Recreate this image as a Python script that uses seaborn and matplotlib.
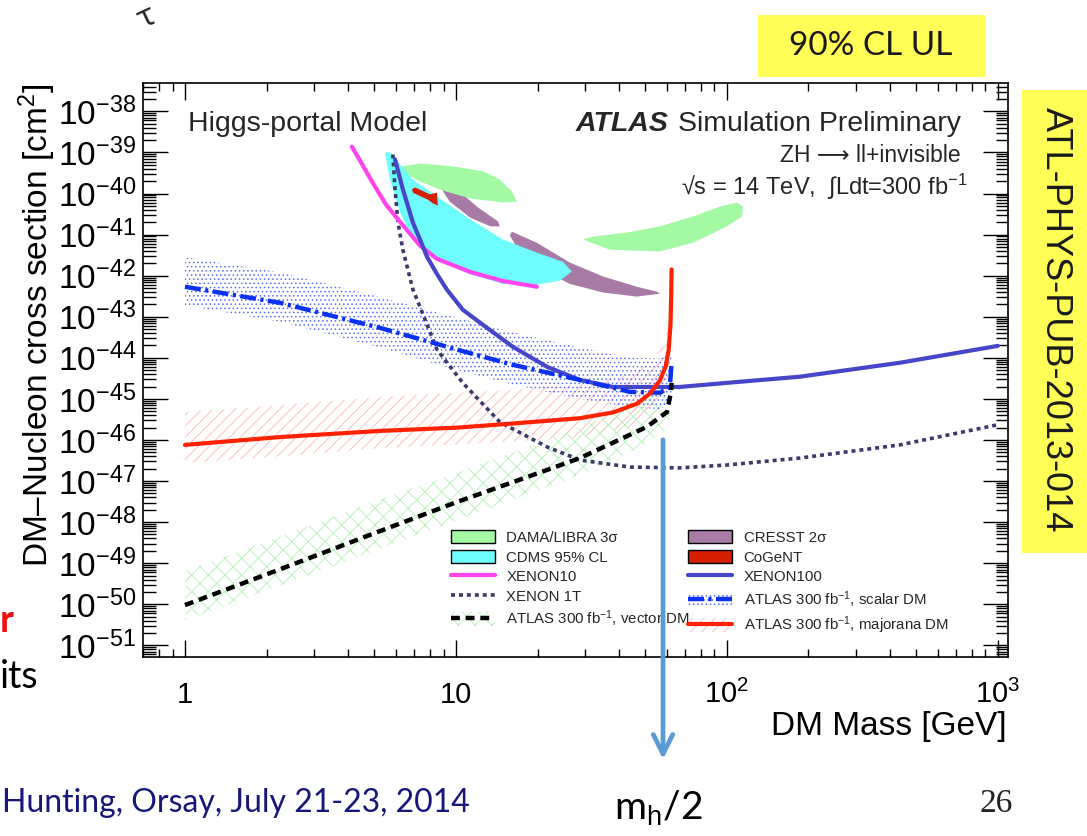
import numpy as np
import matplotlib
matplotlib.use("Agg")
import matplotlib.pyplot as plt
import seaborn as sns
from matplotlib.patches import Patch, FancyArrowPatch, Rectangle
from matplotlib.lines import Line2D

# ---------------------------------------------------------------------------
# Data: DM mass [GeV] and log10 of the DM-nucleon cross section [cm^2]
# ---------------------------------------------------------------------------
# ATLAS 300 fb-1, majorana DM
majorana_mass = [1.0, 2.24, 5.24, 10.09, 16.2, 28.7, 38.0, 46.5, 52.0, 56.6, 59.5, 61.0, 61.9, 62.3, 62.5]
majorana_log = [-46.12, -45.93, -45.78, -45.70, -45.60, -45.47, -45.33, -45.12, -44.87, -44.55,
                -44.20, -43.80, -43.20, -42.50, -41.85]
# majorana uncertainty band
majorana_band_mass = [1.0, 2.24, 5.24, 14.5, 28.7, 43.9, 53.3, 59.0, 61.6, 62.2, 62.5]
majorana_band_hi = [-45.32, -45.15, -44.95, -44.80, -44.65, -44.40, -44.10, -43.60, -43.00, -42.30, -41.60]
majorana_band_lo = [-46.56, -46.40, -46.20, -46.05, -45.95, -45.70, -45.40, -44.90, -44.20, -43.40, -42.40]

# ATLAS 300 fb-1, scalar DM (line and band share mass points)
scalar_mass = [1.0, 2.24, 5.24, 10.09, 16.2, 28.7, 43.9, 56.6, 61.6, 62.5]
scalar_log = [-42.27, -42.66, -43.27, -43.80, -44.17, -44.54, -44.83, -44.85, -44.71, -44.10]
scalar_band_hi = [-41.55, -41.92, -42.52, -43.02, -43.38, -43.75, -44.00, -44.02, -43.90, -43.85]
scalar_band_lo = [-42.72, -43.12, -43.75, -44.30, -44.65, -45.00, -45.20, -45.25, -45.15, -45.10]

# ATLAS 300 fb-1, vector DM
vector_mass = [1.0, 2.24, 5.24, 10.09, 21.7, 28.7, 50.7, 60.1, 62.1, 62.5]
vector_log = [-50.02, -49.15, -48.22, -47.51, -46.73, -46.44, -45.68, -45.32, -44.85, -44.61]
vector_band_hi = [-49.20, -48.35, -47.45, -46.80, -46.00, -45.70, -45.00, -44.75, -44.40, -44.20]
vector_band_lo = [-50.40, -49.55, -48.65, -47.95, -47.15, -46.85, -46.10, -45.75, -45.40, -45.20]

# Direct-detection limits
xenon10_mass = [4.13, 4.50, 4.90, 5.52, 6.22, 7.37, 8.51, 11.3, 14.9, 19.9]
xenon10_log = [-38.86, -39.28, -39.71, -40.27, -40.69, -41.27, -41.59, -41.91, -42.13, -42.27]

xenon100_mass = [5.96, 6.37, 6.94, 7.37, 7.82, 8.51, 9.26, 10.6, 12.3, 16.2, 21.7, 28.7, 38.0,
                 67.0, 100.0, 186.0, 435.0, 1000.0]
xenon100_log = [-39.17, -39.90, -40.71, -41.12, -41.54, -41.96, -42.34, -42.83, -43.15, -43.73,
                -44.22, -44.54, -44.71, -44.71, -44.61, -44.46, -44.12, -43.71]

xenon1t_mass = [5.85, 5.96, 6.11, 6.37, 6.94, 7.37, 8.51, 10.6, 14.5, 21.7, 28.7, 43.9, 67.0,
                100.0, 186.0, 435.0, 1000.0]
xenon1t_log = [-39.05, -39.90, -40.70, -41.37, -42.34, -42.76, -43.80, -44.61, -45.56, -46.17,
               -46.49, -46.66, -46.68, -46.61, -46.44, -46.12, -45.63]

# Signal regions (closed contours)
cdms_mass = [5.47, 5.71, 6.22, 6.94, 8.51, 11.3, 14.9, 19.9, 24.2, 26.8,
             24.8, 19.9, 14.9, 11.3, 8.51, 6.94, 6.22, 5.71]
cdms_log = [-39.00, -39.66, -40.46, -41.12, -41.63, -41.97, -42.20, -42.22, -42.12, -41.90,
            -41.66, -41.44, -41.12, -40.63, -40.07, -39.66, -39.29, -39.00]

dama1_mass = [6.32, 7.37, 9.75, 12.6, 14.5, 16.1, 16.8, 14.9, 11.3, 8.96, 7.37, 6.43]
dama1_log = [-39.34, -39.27, -39.34, -39.46, -39.66, -39.95, -40.20, -40.22, -40.12, -39.93, -39.71, -39.49]

dama2_mass = [29.4, 37.0, 56.6, 74.9, 100.0, 113.6, 114.6, 108.9, 94.2, 74.9, 56.6, 42.8, 32.0]
dama2_log = [-41.12, -41.37, -41.41, -41.20, -40.80, -40.56, -40.32, -40.22, -40.32, -40.56, -40.80, -40.95, -41.05]

cresst1_mass = [8.96, 10.09, 11.95, 14.3, 14.5, 13.4, 11.3, 9.5, 8.96]
cresst1_log = [-39.80, -39.90, -40.32, -40.68, -40.80, -40.80, -40.59, -40.20, -39.95]

cresst2_mass = [16.1, 19.9, 26.3, 34.9, 46.5, 55.2, 56.6, 46.5, 34.9, 26.3, 19.9, 16.8, 15.8]
cresst2_log = [-40.93, -41.20, -41.68, -42.02, -42.27, -42.39, -42.44, -42.51, -42.41, -42.20, -41.78, -41.32, -41.02]

cogent_mass = [6.88, 7.06, 8.02, 8.51, 8.58, 8.23, 7.88, 6.94]
cogent_log = [-39.90, -39.85, -40.02, -39.98, -40.29, -40.24, -40.15, -39.98]

# Axis ticks
y_exponents = list(range(-51, -37))
x_ticks = [1, 10, 100, 1000]
x_ticklabels = ["1", "10", "$10^{2}$", "$10^{3}$"]

# Colours
C_DAMA = "#a4f9a4"
C_CDMS = "#6ffcfc"
C_CRESST = "#a77ba6"
C_COGENT = "#d42000"
C_XE10 = "#ff44ee"
C_XE100 = "#4646c8"
C_XE1T = "#3a3a6c"
C_SCALAR = "#0a32f5"
C_MAJ = "#ff2200"
C_HATCH_SCA = "#5a6cff"
C_HATCH_VEC = "#b4f0b4"
C_HATCH_MAJ = "#ffb4b4"

# ---------------------------------------------------------------------------
sns.set_theme(style="ticks")
plt.rcParams["font.family"] = ["Liberation Sans", "DejaVu Sans"]
plt.rcParams["mathtext.fontset"] = "custom"
plt.rcParams["mathtext.rm"] = "Liberation Sans"
plt.rcParams["mathtext.it"] = "Liberation Sans:italic"
plt.rcParams["mathtext.bf"] = "Liberation Sans:bold"
plt.rcParams["hatch.linewidth"] = 0.6

W, H = 1087, 836
fig = plt.figure(figsize=(W / 100, H / 100), dpi=100)
fig.patch.set_facecolor("white")


def fx(px):
    return px / W


def fy(py):
    return 1 - py / H


ax = fig.add_axes([fx(143), fy(657), fx(1008) - fx(143), fy(83) - fy(657)])
ax.set_facecolor("white")
ax.set_xscale("log")
ax.set_yscale("log")


def pw(a):
    return 10.0 ** np.asarray(a, dtype=float)


# Uncertainty bands (hatched)
ax.fill_between(majorana_band_mass, pw(majorana_band_lo), pw(majorana_band_hi), facecolor="none",
                edgecolor=C_HATCH_MAJ, hatch="///", linewidth=0, zorder=1)
ax.fill_between(vector_mass, pw(vector_band_lo), pw(vector_band_hi), facecolor="none",
                edgecolor=C_HATCH_VEC, hatch="xx", linewidth=0, zorder=1)
ax.fill_between(scalar_mass, pw(scalar_band_lo), pw(scalar_band_hi), facecolor="none",
                edgecolor=C_HATCH_SCA, hatch="....", linewidth=0, zorder=1)

# Signal regions
ax.fill(cresst1_mass, pw(cresst1_log), color=C_CRESST, lw=0, zorder=2)
ax.fill(cresst2_mass, pw(cresst2_log), color=C_CRESST, lw=0, zorder=2)
ax.fill(dama1_mass, pw(dama1_log), color=C_DAMA, lw=0, zorder=2)
ax.fill(dama2_mass, pw(dama2_log), color=C_DAMA, lw=0, zorder=2)
ax.fill(cdms_mass, pw(cdms_log), color=C_CDMS, lw=0, zorder=3)
ax.fill(cogent_mass, pw(cogent_log), color=C_COGENT, lw=0, zorder=4)


def curve(m, logs, **kw):
    sns.lineplot(x=np.asarray(m, dtype=float), y=pw(logs), ax=ax, estimator=None,
                 sort=False, legend=False, **kw)


LS_XE1T = (0, (1.1, 1.1))
LS_VEC = (0, (2.0, 1.3))
LS_SCA = (0, (3.6, 1.0, 0.7, 1.0))

curve(xenon1t_mass, xenon1t_log, color=C_XE1T, lw=2.6, linestyle=LS_XE1T, zorder=5)
curve(xenon10_mass, xenon10_log, color=C_XE10, lw=3.0, zorder=5)
curve(xenon100_mass, xenon100_log, color=C_XE100, lw=3.0, zorder=6)
curve(scalar_mass, scalar_log, color=C_SCALAR, lw=3.2, linestyle=LS_SCA, zorder=6)
curve(majorana_mass, majorana_log, color=C_MAJ, lw=3.0, zorder=7)
curve(vector_mass, vector_log, color="black", lw=3.2, linestyle=LS_VEC, zorder=7)

ax.set_xlim(0.7, 1090)
ax.set_ylim(5.2e-52, 4.9e-38)

# Ticks in ROOT style: inside, on all four sides
ax.set_yticks([10.0 ** e for e in y_exponents])
ax.set_yticklabels([f"$10^{{{e}}}$" for e in y_exponents], fontsize=24)
ax.yaxis.set_minor_locator(matplotlib.ticker.LogLocator(base=10, subs=np.arange(2, 10), numticks=200))
ax.yaxis.set_minor_formatter(matplotlib.ticker.NullFormatter())
ax.set_xticks(x_ticks)
ax.set_xticklabels([])
ax.xaxis.set_minor_locator(matplotlib.ticker.LogLocator(base=10, subs=np.arange(2, 10), numticks=200))
ax.xaxis.set_minor_formatter(matplotlib.ticker.NullFormatter())
ax.tick_params(axis="both", which="both", direction="in", top=True, right=True,
               color="black", width=1.0)
ax.tick_params(axis="y", which="major", length=18, pad=5, labelcolor="black")
ax.tick_params(axis="y", which="minor", length=9)
ax.tick_params(axis="x", which="major", length=12)
ax.tick_params(axis="x", which="minor", length=6)
for s in ax.spines.values():
    s.set_color("black")
    s.set_linewidth(1.2)
ax.set_xlabel("")
ax.set_ylabel("")

for xv, lab in zip(x_ticks, x_ticklabels):
    ax.text(xv, -0.08, lab, transform=ax.get_xaxis_transform(), ha="center",
            va="baseline", fontsize=21, color="black")

# Axis titles
fig.text(fx(37), fy(84), "DM\u2013Nucleon cross section [cm$^{2}$]", rotation=90,
         ha="center", va="top", fontsize=24, color="black")
fig.text(fx(1007), fy(735), "DM Mass [GeV]", ha="right", va="baseline", fontsize=24,
         color="black")

# In-plot labels
fig.text(fx(188), fy(131), "Higgs-portal Model", fontsize=20.5, ha="left", va="baseline")
fig.text(fx(668), fy(131), "ATLAS", fontsize=20.5, weight="bold", style="italic",
         ha="right", va="baseline")
fig.text(fx(961), fy(131), "Simulation Preliminary", fontsize=20.5, ha="right", va="baseline")
fig.text(fx(961), fy(162), "ZH \u27f6 ll+invisible", fontsize=16.5, ha="right", va="baseline")
fig.text(fx(968), fy(195), "\u221as = 14 TeV,  \u222bLdt=300 fb$^{-1}$", fontsize=17,
         ha="right", va="baseline")

# Legend, two columns
h_vec = (Patch(facecolor="none", edgecolor=C_HATCH_VEC, hatch="xx", linewidth=0),
         Line2D([], [], color="black", lw=3.2, linestyle=LS_VEC))
h_sca = (Patch(facecolor="none", edgecolor=C_HATCH_SCA, hatch="....", linewidth=0),
         Line2D([], [], color=C_SCALAR, lw=3.2, linestyle=LS_SCA))
h_maj = (Patch(facecolor="none", edgecolor=C_HATCH_MAJ, hatch="///", linewidth=0),
         Line2D([], [], color=C_MAJ, lw=3.0))
col1_handles = [Patch(facecolor=C_DAMA, edgecolor="black", lw=1.0),
                Patch(facecolor=C_CDMS, edgecolor="black", lw=1.0),
                Line2D([], [], color=C_XE10, lw=3.0),
                Line2D([], [], color=C_XE1T, lw=2.6, linestyle=LS_XE1T),
                h_vec]
col1_labels = ["DAMA/LIBRA 3\u03c3", "CDMS 95% CL", "XENON10", "XENON 1T",
               "ATLAS 300 fb$^{-1}$, vector DM"]
col2_handles = [Patch(facecolor=C_CRESST, edgecolor="black", lw=1.0),
                Patch(facecolor=C_COGENT, edgecolor="black", lw=1.0),
                Line2D([], [], color=C_XE100, lw=3.0),
                h_sca, h_maj]
col2_labels = ["CRESST 2\u03c3", "CoGeNT", "XENON100",
               "ATLAS 300 fb$^{-1}$, scalar DM", "ATLAS 300 fb$^{-1}$, majorana DM"]
leg_kw = dict(loc="upper left", bbox_transform=fig.transFigure, frameon=False,
              fontsize=10.8, handlelength=2.95, handleheight=1.0, handletextpad=0.75,
              labelspacing=0.32, borderpad=0, borderaxespad=0)
leg1 = ax.legend(col1_handles, col1_labels, bbox_to_anchor=(fx(451), fy(530)), **leg_kw)
ax.add_artist(leg1)
leg2 = ax.legend(col2_handles, col2_labels, bbox_to_anchor=(fx(688), fy(530)), **leg_kw)
leg1.set_zorder(8)
leg2.set_zorder(8)

# Slide annotations around the plot
fig.add_artist(Rectangle((fx(758), fy(77)), fx(985) - fx(758), fy(15) - fy(77),
                         transform=fig.transFigure, facecolor="#ffff57", edgecolor="none"))
fig.text(fx(871), fy(46), "90% CL UL", ha="center", va="center", fontsize=24,
         family="Lato", color="#1a1a1a")
fig.add_artist(Rectangle((fx(1022), fy(553)), fx(1087) - fx(1022), fy(90) - fy(553),
                         transform=fig.transFigure, facecolor="#ffff57", edgecolor="none"))
fig.text(fx(1055), fy(320), "ATL-PHYS-PUB-2013-014", rotation=-90, ha="center", va="center",
         fontsize=26, color="#1a1a1a")

fig.text(fx(146), fy(17), "\u03c4", rotation=25, ha="center", va="center", fontsize=22,
         color="#222222", family="DejaVu Sans")
fig.text(fx(14), fy(632), "r", ha="right", va="baseline", fontsize=27, weight="bold",
         color="#ee1111", family="Lato")
fig.text(fx(38), fy(688), "its", ha="right", va="baseline", fontsize=27, color="black",
         family="Lato")
fig.text(fx(2), fy(812), "Hunting, Orsay, July 21-23, 2014", ha="left", va="baseline",
         fontsize=23, color="#17177a", family="Lato")
fig.text(fx(1013), fy(812), "26", ha="right", va="baseline", fontsize=24, color="#222222",
         family="Liberation Serif")
fig.text(fx(614), fy(820), "m$_{\\rm h}$/2", ha="left", va="baseline", fontsize=28,
         color="black", family="Lato")

arrow = FancyArrowPatch((fx(663), fy(437)), (fx(663), fy(762)), transform=fig.transFigure,
                        arrowstyle="->,head_length=14,head_width=7", mutation_scale=1,
                        color="#5b9bd5", lw=3.4, zorder=20)
fig.add_artist(arrow)

fig.savefig("out.png", dpi=100, facecolor="white")
